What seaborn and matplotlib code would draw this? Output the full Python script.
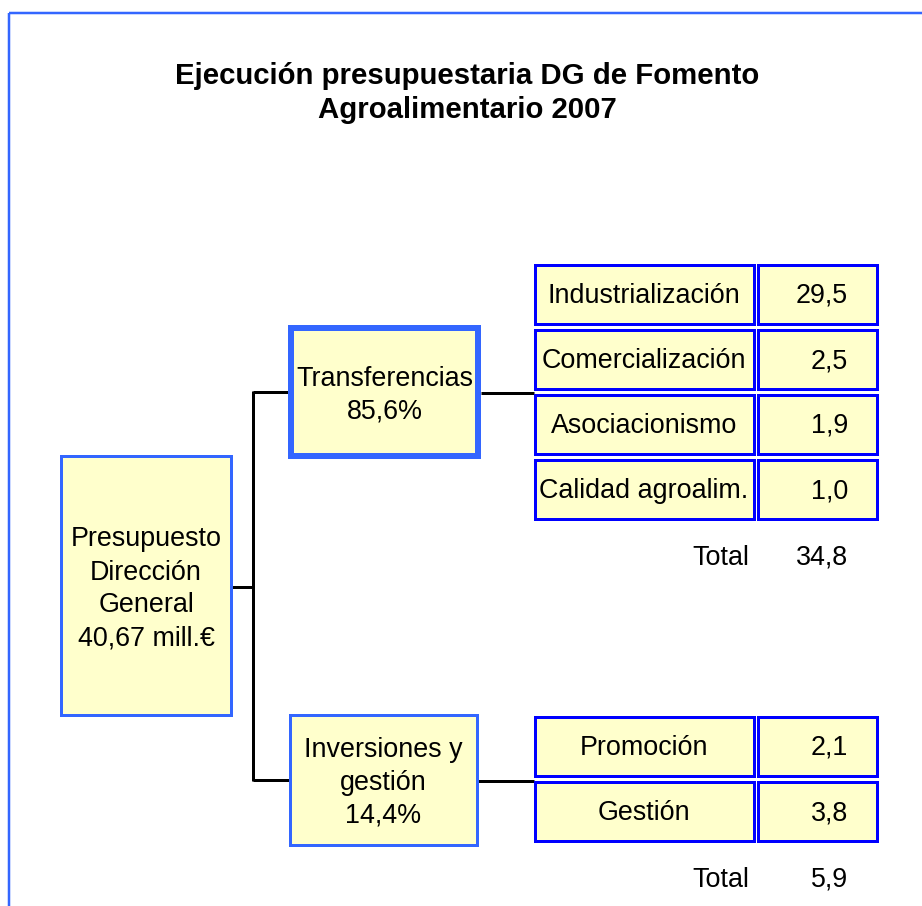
import matplotlib
matplotlib.use("Agg")
import matplotlib.pyplot as plt
from matplotlib.patches import Rectangle
import seaborn as sns

# datos
titulo = ["Ejecución presupuestaria DG de Fomento", "Agroalimentario 2007"]
presupuesto_total = 40.67
ramas = [["Transferencias"], ["Inversiones y", "gestión"]]
ramas_pct = [85.6, 14.4]
transf_conceptos = ["Industrialización", "Comercialización", "Asociacionismo", "Calidad agroalim."]
transf_valores = [29.5, 2.5, 1.9, 1.0]
inv_conceptos = ["Promoción", "Gestión"]
inv_valores = [2.1, 3.8]
totales = [34.8, 5.9]

sns.set_theme(style="white")
plt.rcParams["font.family"] = ["Liberation Sans", "DejaVu Sans"]
plt.rcParams["text.color"] = "black"

AMARILLO = "#ffffcc"
AZUL_CLARO = "#3366ff"
AZUL = "#0000ff"
PX = 0.72  # 1 px en puntos (dpi 100)
FS = 19.4


def coma(v, d=1):
    return f"{v:.{d}f}".replace(".", ",")


def caja(ax, x0, y0, x1, y1, color, grosor):
    ax.add_patch(Rectangle((x0, y0), x1 - x0, y1 - y0, facecolor=AMARILLO,
                           edgecolor=color, linewidth=grosor * PX, zorder=2))


def lineas(ax, xc, yc, textos, sep=33, **kw):
    n = len(textos)
    for i, t in enumerate(textos):
        y = yc + (i - (n - 1) / 2) * sep
        ax.text(xc, y, t, ha="center", va="center", fontsize=FS, zorder=3, **kw)


def tabla(ax, top, conceptos, valores, total):
    paso = 65
    for i, (c, v) in enumerate(zip(conceptos, valores)):
        y0 = top + i * paso + 1.5
        y1 = top + i * paso + 62 - 1.5
        caja(ax, 534.5, y0, 753.5, y1, AZUL, 3)
        caja(ax, 757.5, y0, 876.5, y1, AZUL, 3)
        yc = (y0 + y1) / 2 + 2
        ax.text(644, yc, c, ha="center", va="center", fontsize=FS, zorder=3)
        ax.text(848, yc, coma(v), ha="right", va="center", fontsize=FS, zorder=3)
    yt = top + len(conceptos) * paso + 35
    ax.text(749, yt, "Total", ha="right", va="center", fontsize=FS)
    ax.text(848, yt, coma(total), ha="right", va="center", fontsize=FS)


fig = plt.figure(figsize=(9.22, 9.06), dpi=100)
ax = fig.add_axes([0, 0, 1, 1])
ax.set_xlim(0, 922)
ax.set_ylim(906, 0)
ax.axis("off")

# marco
ax.plot([9, 922], [13, 13], color=AZUL_CLARO, lw=2.5 * PX, solid_capstyle="butt")
ax.plot([9, 9], [13, 906], color=AZUL_CLARO, lw=2.5 * PX, solid_capstyle="butt")

# titulo
ax.text(467, 76, titulo[0], ha="center", va="center", fontsize=21.2, fontweight="bold")
ax.text(467, 110, titulo[1], ha="center", va="center", fontsize=21.2, fontweight="bold")

# conectores
negro = dict(color="black", lw=3 * PX, zorder=1, solid_capstyle="butt")
ax.plot([232, 253], [587, 587], **negro)
ax.plot([253, 253], [391, 781], **negro)
ax.plot([253, 291], [392, 392], **negro)
ax.plot([253, 289], [780, 780], **negro)
ax.plot([481, 534], [393, 393], **negro)
ax.plot([478, 534], [781, 781], **negro)

# caja raiz
caja(ax, 60.5, 455.5, 230.5, 714.5, AZUL_CLARO, 3)
lineas(ax, 146, 589, ["Presupuesto", "Dirección", "General", f"{coma(presupuesto_total, 2)} mill.€"])

# ramas
caja(ax, 291, 328, 478, 456, AZUL_CLARO, 6)
lineas(ax, 385, 395, ramas[0] + [f"{coma(ramas_pct[0])}%"])
caja(ax, 289.5, 714.5, 476.5, 844.5, AZUL_CLARO, 3)
lineas(ax, 383, 783, ramas[1] + [f"{coma(ramas_pct[1])}%"])

# tablas
tabla(ax, 263, transf_conceptos, transf_valores, totales[0])
tabla(ax, 715, inv_conceptos, inv_valores, totales[1])

fig.savefig("out.png", dpi=100, facecolor="white")
